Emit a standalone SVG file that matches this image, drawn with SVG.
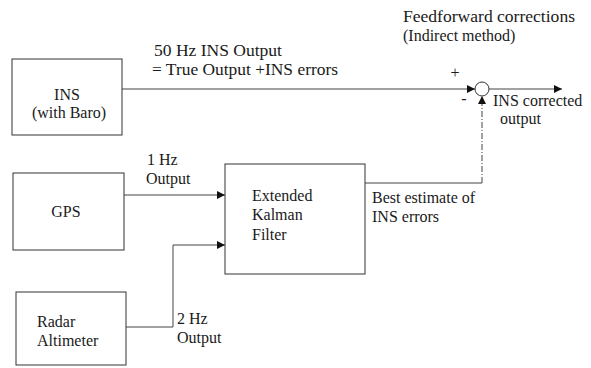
<svg xmlns="http://www.w3.org/2000/svg" width="591" height="368" viewBox="0 0 591 368">
<style>
text{font-family:'Liberation Serif','Times New Roman','DejaVu Serif',serif;font-size:16px;fill:#1a1a1a}
.box{fill:#fff;stroke:#333;stroke-width:1}
.ln{fill:none;stroke:#444;stroke-width:1}
.dash{fill:none;stroke:#444;stroke-width:1;stroke-dasharray:6 2 1 2}
.c{text-anchor:middle}
</style>
<defs>
<marker id="ah" viewBox="0 0 10 10" refX="10" refY="5" markerWidth="9" markerHeight="8" markerUnits="userSpaceOnUse" orient="auto">
<path d="M0,0 L10,5 L0,10 z" fill="#111"/>
</marker>
</defs>
<rect width="591" height="368" fill="#fff"/>
<g id="labels">
<text x="403" y="22" textLength="172" lengthAdjust="spacingAndGlyphs">Feedforward corrections</text>
<text x="403" y="41">(Indirect method)</text>
<text x="154" y="56" textLength="128" lengthAdjust="spacingAndGlyphs">50 Hz INS Output</text>
<text x="152" y="75" textLength="186" lengthAdjust="spacingAndGlyphs">= True Output +INS errors</text>
<text x="455" y="78" class="c">+</text>
<text x="464" y="104" class="c">-</text>
<text x="493" y="106">INS corrected</text>
<text x="500" y="124">output</text>
<text x="147" y="165">1 Hz</text>
<text x="146" y="184">Output</text>
<text x="372" y="203">Best estimate of</text>
<text x="372" y="222">INS errors</text>
<text x="177" y="324">2 Hz</text>
<text x="177" y="343">Output</text>
</g>
<g id="connectors">
<path class="ln" d="M122 89 H475" marker-end="url(#ah)"/>
<path class="ln" d="M489 89 H562" marker-end="url(#ah)"/>
<path class="ln" d="M124 195 H225" marker-end="url(#ah)"/>
<path class="ln" d="M126 327 H173 V245 H225" marker-end="url(#ah)"/>
<path class="ln" d="M365 183 H482"/>
<path class="dash" d="M482 183 V96" marker-end="url(#ah)"/>
</g>
<g id="ins">
<rect class="box" x="12" y="59" width="110" height="76"/>
<text x="67" y="100" class="c">INS</text>
<text x="69" y="118" class="c">(with Baro)</text>
</g>
<g id="gps">
<rect class="box" x="13" y="173" width="111" height="77"/>
<text x="66" y="217" class="c">GPS</text>
</g>
<g id="radar">
<rect class="box" x="16" y="292" width="110" height="73"/>
<text x="37" y="327">Radar</text>
<text x="37" y="346">Altimeter</text>
</g>
<g id="ekf">
<rect class="box" x="225" y="164" width="140" height="110"/>
<text x="252" y="201">Extended</text>
<text x="252" y="220">Kalman</text>
<text x="252" y="240">Filter</text>
</g>
<g id="sum">
<circle cx="482" cy="89" r="7" fill="#fff" stroke="#333" stroke-width="1"/>
</g>
</svg>
